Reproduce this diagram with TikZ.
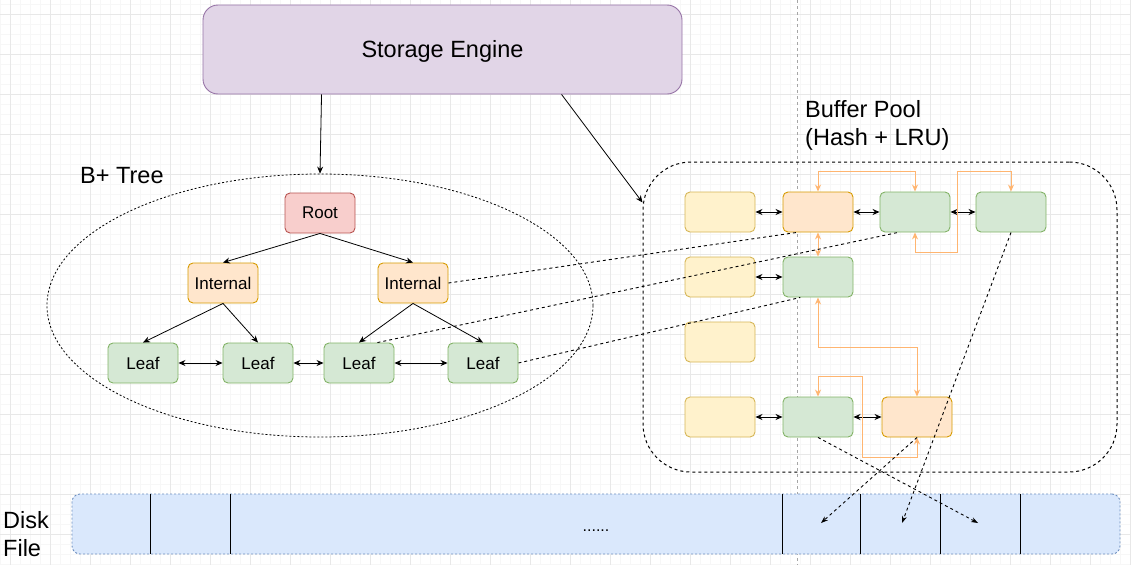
\documentclass[tikz,border=0pt]{standalone}
\usepackage{fontspec}
\setmainfont{Liberation Sans}
\usetikzlibrary{arrows.meta,calc,shapes.geometric}

\definecolor{engfill}{HTML}{E1D5E7}
\definecolor{engdraw}{HTML}{9673A6}
\definecolor{redfill}{HTML}{F8CECC}
\definecolor{reddraw}{HTML}{B85450}
\definecolor{orafill}{HTML}{FFE6CC}
\definecolor{oradraw}{HTML}{D79B00}
\definecolor{grnfill}{HTML}{D5E8D4}
\definecolor{grndraw}{HTML}{82B366}
\definecolor{yelfill}{HTML}{FFF2CC}
\definecolor{yeldraw}{HTML}{D6B656}
\definecolor{diskfill}{HTML}{DAE8FC}
\definecolor{diskdraw}{HTML}{6C8EBF}
\definecolor{lruline}{HTML}{FFB570}

\tikzset{
    page/.style={x=1pt, y=-1pt},
    bigtext/.style={font=\fontsize{23.5}{28}\selectfont},
    cell/.style={draw, rounded corners=5pt, minimum width=70pt, minimum height=40pt,
        inner sep=0pt, line width=0.9pt, font=\fontsize{17}{20}\selectfont},
    rootcell/.style={cell, fill=redfill, draw=reddraw},
    midcell/.style={cell, fill=orafill, draw=oradraw},
    leafcell/.style={cell, fill=grnfill, draw=grndraw},
    freecell/.style={cell, fill=yelfill, draw=yeldraw},
    link/.style={-{Stealth[length=7pt,width=6pt]}, line width=0.8pt},
    twoway/.style={{Stealth[length=7pt,width=6pt]}-{Stealth[length=7pt,width=6pt]}, line width=0.9pt},
    lrulink/.style={draw=lruline, line width=0.9pt,
        {Stealth[length=7pt,width=6pt,fill=lruline]}-{Stealth[length=7pt,width=6pt,fill=lruline]}},
    maplink/.style={dash pattern=on 3pt off 3pt, line width=0.9pt},
    disklink/.style={maplink, -{Stealth[length=7pt,width=5pt]}},
    majorgrid/.style={draw=black!9, line width=0.8pt},
    minorgrid/.style={draw=black!3, line width=0.8pt},
}

\begin{document}
\begin{tikzpicture}[page]
    \useasboundingbox[fill=white] (0,0) rectangle (1131,565);
    \foreach \x in {0,10,...,1130} \draw[minorgrid] (\x,0) -- (\x,565);
    \foreach \y in {4,14,...,564} \draw[minorgrid] (0,\y) -- (1131,\y);
    \foreach \x in {10,50,...,1130} \draw[majorgrid] (\x,0) -- (\x,565);
    \foreach \y in {14,54,...,564} \draw[majorgrid] (0,\y) -- (1131,\y);
    \draw[black!35, dash pattern=on 3pt off 3pt, line width=0.6pt] (797,0) -- (797,565);

    % storage engine
    \node[draw=engdraw, fill=engfill, rounded corners=15pt, minimum width=479pt,
        minimum height=89pt, line width=0.9pt, bigtext, text depth=2pt] (engine) at (442.5,49.5) {Storage Engine};

    % b+ tree
    \node[ellipse, draw, dash pattern=on 2pt off 2pt, line width=0.8pt, minimum width=546pt,
        minimum height=263pt, inner sep=0pt] (tree) at (320,305.5) {};
    \node[bigtext, anchor=base west, inner sep=0pt] (treelabel) at (80,183) {B+ Tree};
    \node[rootcell] (root) at (320,213) {Root};
    \node[midcell] (inl) at (223,283) {Internal};
    \node[midcell] (inr) at (413,283) {Internal};
    \node[leafcell] (leafa) at (143,363) {Leaf};
    \node[leafcell] (leafb) at (258,363) {Leaf};
    \node[leafcell] (leafc) at (359,363) {Leaf};
    \node[leafcell] (leafd) at (483,363) {Leaf};

    % buffer pool
    \node[draw, dash pattern=on 3pt off 3pt, line width=1pt, rounded corners=48pt,
        minimum width=474pt, minimum height=310pt, inner sep=0pt] (pool) at (880,317) {};
    \node[bigtext, anchor=north west, align=left, inner sep=0pt] (poollabel) at (805,100)
        {Buffer Pool\\(Hash + LRU)};
    \node[freecell] (fra) at (720,212) {};
    \node[midcell] (pga) at (818,212) {};
    \node[leafcell] (pgb) at (915,212) {};
    \node[leafcell] (pgc) at (1011,212) {};
    \node[freecell] (frb) at (720,277) {};
    \node[leafcell] (pgd) at (818,277) {};
    \node[freecell] (frc) at (720,342) {};
    \node[freecell] (frd) at (720,417) {};
    \node[leafcell] (pge) at (818,417) {};
    \node[midcell] (pgf) at (917,417) {};

    % disk file
    \node[draw=diskdraw, fill=diskfill, dash pattern=on 2pt off 2pt, line width=0.9pt,
        rounded corners=8pt, minimum width=1048pt, minimum height=60pt, inner sep=0pt,
        font=\fontsize{16}{18}\selectfont, text height=14pt, text depth=0pt] (disk) at (596,524) {......};
    \foreach \x in {150,230,782,860,940,1020}
        \draw[line width=0.9pt] (\x,494) -- (\x,554);
    \node[bigtext, anchor=north west, align=left, inner sep=0pt] (disklabel) at (3,511)
        {Disk\\File};
    \coordinate (blka) at (821,523);
    \coordinate (blkb) at (902,523);
    \coordinate (blkc) at (978,523);

    \draw[link] ([xshift=119pt]engine.south west) -- (tree.north);
    \draw[link] ([xshift=359pt]engine.south west) -- ([yshift=-41pt]pool.north west);

    \draw[link] (root.south) -- (inl.north);
    \draw[link] (root.south) -- (inr.north);
    \draw[link] (inl.south) -- (leafa.north);
    \draw[link] (inl.south) -- (leafb.north);
    \draw[link] (inr.south) -- (leafc.north);
    \draw[link] (inr.south) -- (leafd.north);
    \draw[twoway] (leafa) -- (leafb);
    \draw[twoway] (leafb) -- (leafc);
    \draw[twoway] (leafc) -- (leafd);

    \draw[twoway] (fra) -- (pga);
    \draw[twoway] (pga) -- (pgb);
    \draw[twoway] (pgb) -- (pgc);
    \draw[twoway] (frb) -- (pgd);
    \draw[twoway] (frd) -- (pge);
    \draw[twoway] (pge) -- (pgf);

    \draw[lrulink] (pga.north) -- ++(0,-20) -| (pgb.north);
    \draw[lrulink] (pgb.south) -- ++(0,20) -- ++(42,0) |- ($(pgc.north)+(0,-20)$) -- (pgc.north);
    \draw[lrulink] (pga.south) -- (pgd.north);
    \draw[lrulink] (pgd.south) -- ++(0,50) -| (pgf.north);
    \draw[lrulink] (pge.north) -- ++(0,-20) -- ++(44,0) |- ($(pgf.south)+(0,20)$) -- (pgf.south);

    \draw[maplink] (inr.east) -- ($(pga.south west)!0.2!(pga.south east)$);
    \draw[maplink] ($(leafc.north west)!0.76!(leafc.north east)$) -- ($(pgb.south west)!0.26!(pgb.south east)$);
    \draw[maplink] (leafd.east) -- ($(pgd.south west)!0.25!(pgd.south east)$);
    \draw[disklink] (pgc.south) -- (blkb);
    \draw[disklink] (pgf.south) -- (blka);
    \draw[disklink] (pge.south) -- (blkc);
\end{tikzpicture}
\end{document}
